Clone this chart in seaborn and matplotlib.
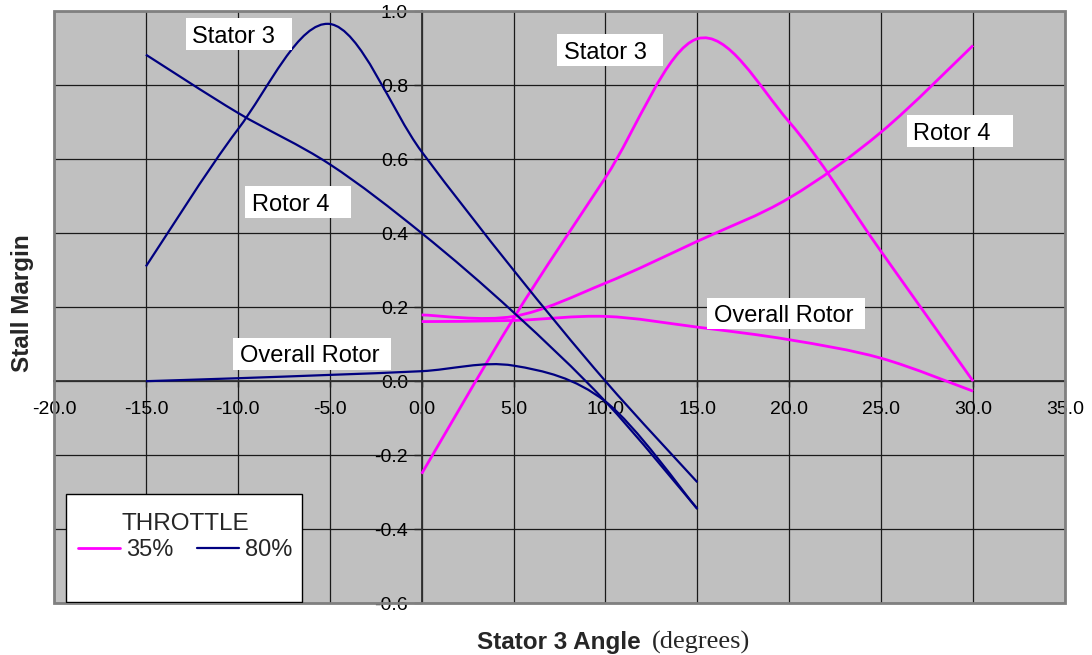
import numpy as np
import pandas as pd
import matplotlib
matplotlib.use("Agg")
import matplotlib.pyplot as plt
from matplotlib.path import Path
from matplotlib.patches import PathPatch, Rectangle
from matplotlib.lines import Line2D
import seaborn as sns

# Stall margin vs. stator 3 angle, two throttle settings
angle_35 = [0, 5, 10, 15, 20, 25, 30]
stator3_35 = [-0.25, 0.17, 0.55, 0.925, 0.70, 0.35, 0.0]
rotor4_35 = [0.179, 0.175, 0.265, 0.378, 0.495, 0.673, 0.907]
overall_35 = [0.161, 0.164, 0.175, 0.146, 0.112, 0.062, -0.027]

angle_80 = [-15, -10, -5, 0, 5, 10, 15]
stator3_80 = [0.31, 0.68, 0.965, 0.62, 0.30, 0.0, -0.273]
rotor4_80 = [0.882, 0.725, 0.586, 0.40, 0.186, -0.055, -0.345]
overall_80 = [0.0, 0.008, 0.017, 0.027, 0.042, -0.055, -0.345]

throttles = ["35%", "80%"]
components = ["Stator 3", "Rotor 4", "Overall Rotor"]
x_ticks = [-20, -15, -10, -5, 0, 5, 10, 15, 20, 25, 30, 35]
y_ticks = [-0.6, -0.4, -0.2, 0.0, 0.2, 0.4, 0.6, 0.8, 1.0]

colors = {"35%": "#FF00FF", "80%": "#000080"}
widths = {"35%": 2.0, "80%": 1.6}

rows = []
for thr, xs, series in [("35%", angle_35, [stator3_35, rotor4_35, overall_35]),
                        ("80%", angle_80, [stator3_80, rotor4_80, overall_80])]:
    for comp, ys in zip(components, series):
        for x, y in zip(xs, ys):
            rows.append({"angle": x, "margin": y, "throttle": thr,
                         "component": f"{comp} {thr}"})
df = pd.DataFrame(rows)

sns.set_style("ticks")
plt.rcParams["font.family"] = ["Liberation Sans", "DejaVu Sans"]

fig = plt.figure(figsize=(10.92, 6.55), dpi=100)
ax = fig.add_axes([54 / 1092, (655 - 603.3) / 655, 1011 / 1092, 592.3 / 655])
ax.set_facecolor("#C0C0C0")

sns.lineplot(data=df, x="angle", y="margin", hue="throttle", units="component",
             estimator=None, sort=False, palette=colors, legend=False, ax=ax)


def smooth_path(pts):
    """Bezier path through the points, Excel-style smoothed line."""
    pts = np.asarray(pts, dtype=float)
    n = len(pts)
    verts = [pts[0]]
    codes = [Path.MOVETO]
    for i in range(n - 1):
        p0 = pts[i - 1] if i > 0 else pts[i]
        p1, p2 = pts[i], pts[i + 1]
        p3 = pts[i + 2] if i + 2 < n else pts[i + 1]
        verts += [p1 + (p2 - p0) / 6, p2 - (p3 - p1) / 6, p2]
        codes += [Path.CURVE4] * 3
    return Path(verts, codes)


# replace the straight polylines by smoothed curves through the same points
for line in list(ax.lines):
    col = matplotlib.colors.to_hex(line.get_color()).upper()
    thr = "35%" if col == "#FF00FF" else "80%"
    patch = PathPatch(smooth_path(line.get_xydata()), fc="none", ec=col,
                      lw=widths[thr], transform=ax.transData, zorder=3,
                      joinstyle="round", capstyle="butt")
    ax.add_patch(patch)
    line.remove()

ax.set_xlim(-20, 35)
ax.set_ylim(-0.6, 1.0)
ax.set_xticks(x_ticks)
ax.set_yticks(y_ticks)
ax.set_xticklabels([f"{v:.1f}" for v in x_ticks])
ax.set_yticklabels([f"{v:.1f}" for v in y_ticks])
ax.set_xlabel("")
ax.set_ylabel("")

ax.grid(True, color="#1a1a1a", lw=0.9)
ax.set_axisbelow(True)

ax.spines["left"].set_position(("data", 0))
ax.spines["bottom"].set_position(("data", 0))
ax.spines["top"].set_visible(False)
ax.spines["right"].set_visible(False)
for s in ("left", "bottom"):
    ax.spines[s].set_color("#303030")
    ax.spines[s].set_linewidth(1.3)
    ax.spines[s].set_zorder(2.6)

ax.tick_params(axis="x", direction="out", length=4.5, width=1, pad=10,
               labelsize=14, colors="#202020", labelcolor="black")
ax.tick_params(axis="y", direction="out", length=5.8, width=1, pad=4,
               labelsize=14, colors="#202020", labelcolor="black")

# plot-area border
ax.add_patch(Rectangle((0, 0), 1, 1, transform=ax.transAxes, fill=False,
                       ec="#808080", lw=2, clip_on=False, zorder=5))

# curve labels: (text, box x0, x1, y0, y1, text x)
label_boxes = [
    ("Stator 3", -12.82, -7.06, 0.894, 0.980, -12.51),
    ("Rotor 4", -9.61, -3.84, 0.441, 0.526, -9.25),
    ("Overall Rotor", -10.25, -1.69, 0.031, 0.116, -9.89),
    ("Stator 3", 7.36, 13.13, 0.851, 0.937, 7.74),
    ("Rotor 4", 26.41, 32.16, 0.632, 0.718, 26.73),
    ("Overall Rotor", 15.51, 24.12, 0.142, 0.225, 15.9),
]
for text, x0, x1, y0, y1, tx in label_boxes:
    ax.add_patch(Rectangle((x0, y0), x1 - x0, y1 - y0, fc="white", ec="none",
                           zorder=4))
    ax.text(tx, (y0 + y1) / 2 - 0.0228, text, fontsize=17, ha="left",
            va="baseline", color="black", zorder=4.5)

# legend
lb = (0.0119, 0.0022, 0.2453 - 0.0119, 0.1845 - 0.0022)
ax.add_patch(Rectangle(lb[:2], lb[2], lb[3], transform=ax.transAxes,
                       fc="white", ec="black", lw=1.0, zorder=6))
handles = [Line2D([], [], color=colors[t], lw=widths[t]) for t in throttles]
leg = ax.legend(handles, throttles, ncol=2, title="THROTTLE", frameon=False,
                loc="upper center", bbox_to_anchor=(0.1296, 0.153),
                fontsize=17, title_fontsize=17.5, handlelength=1.8,
                handletextpad=0.25, columnspacing=0.98, borderpad=0,
                borderaxespad=0, labelspacing=0.2)
leg.set_zorder(7)

# axis titles
fig.text(22 / 1092, 1 - 303 / 655, "Stall Margin", rotation=90, ha="center",
         va="center", fontsize=17.5, fontweight="bold")
fig.text(476.7 / 1092, 6 / 655, "Stator 3 Angle", ha="left", va="baseline",
         fontsize=17.5, fontweight="bold")
fig.text(652.3 / 1092, 6 / 655, "(degrees)", ha="left", va="baseline",
         fontsize=19, family=["Liberation Serif", "DejaVu Serif"])

fig.savefig("out.png", dpi=100)
